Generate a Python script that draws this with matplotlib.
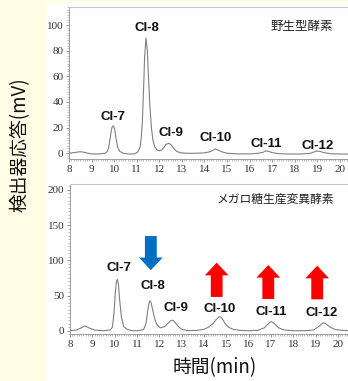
import matplotlib
matplotlib.use("Agg")
import matplotlib.pyplot as plt
from matplotlib.patches import Rectangle
from matplotlib.ticker import MultipleLocator

# wild-type enzyme trace (top)
wt_time = [8.0, 8.2, 8.4, 8.5, 8.6, 8.8, 9.0, 9.3, 9.6, 9.7, 9.75, 9.8, 9.85, 9.9, 9.96,
           10.02, 10.08, 10.15, 10.25, 10.4, 10.6, 10.9, 11.05, 11.15, 11.2, 11.25, 11.3,
           11.35, 11.41, 11.47, 11.52, 11.58, 11.65, 11.72, 11.8, 11.9, 12.0, 12.1, 12.2,
           12.3, 12.43, 12.55, 12.65, 12.75, 12.9, 13.2, 13.6, 14.0, 14.2, 14.35, 14.48,
           14.6, 14.8, 15.0, 15.5, 16.0, 16.4, 16.6, 16.72, 16.85, 17.0, 17.3, 17.8, 18.3,
           18.7, 18.85, 18.97, 19.1, 19.3, 19.6, 20.0, 20.4]
wt_signal = [0, 0.5, 1, 1.2, 1, 0.2, -0.5, -0.6, 0, 1.5, 4, 9, 15, 20, 21.5,
             19, 12, 5, 1.5, 0, -0.5, -0.5, 1, 5, 12, 25, 48,
             75, 90, 80, 60, 38, 20, 10, 5, 2.5, 2, 2.5, 4.5,
             7, 7.8, 6, 3.5, 1.8, 0.5, 0, 0, 0.3, 1, 2, 3.4,
             2.5, 1, 0, -0.5, -0.5, 0, 0.8, 1.8, 1.5, 0.5, -0.3, -0.6, -0.6,
             0, 1, 1.8, 1.5, 0.5, -0.4, -0.6, -0.6]

# mutant enzyme trace (bottom)
mt_time = [8.0, 8.3, 8.5, 8.67, 8.85, 9.1, 9.5, 9.8, 9.9, 9.97, 10.03, 10.08, 10.12, 10.17,
           10.22, 10.3, 10.4, 10.55, 10.8, 11.1, 11.3, 11.4, 11.48, 11.53, 11.58, 11.63,
           11.7, 11.8, 11.9, 12.05, 12.25, 12.4, 12.5, 12.6, 12.7, 12.85, 13.0, 13.3, 13.7,
           14.0, 14.2, 14.4, 14.55, 14.65, 14.72, 14.82, 14.95, 15.1, 15.3, 15.6, 16.0,
           16.4, 16.7, 16.85, 16.95, 17.03, 17.15, 17.35, 17.6, 18.0, 18.5, 18.9, 19.1,
           19.25, 19.34, 19.45, 19.65, 19.9, 20.2, 20.5]
mt_signal = [0, 1, 4, 6.7, 4, 1, 0, 1, 5, 25, 55, 70, 73, 66,
             45, 20, 6, 2, 0, 0, 2, 10, 28, 38, 42.6, 40,
             30, 16, 8, 4, 6, 11, 14, 15, 12, 6, 2, 0, 0.5,
             2, 5, 10, 16, 19, 20, 17, 10, 5, 2, 0.5, 0,
             0.5, 4, 9, 12, 12.8, 10, 4, 1, 0, 0, 1, 5,
             9, 11.4, 10, 5, 1.5, 0.5, 0]

peak_names = ["CI-7", "CI-8", "CI-9", "CI-10", "CI-11", "CI-12"]
wt_label_x = [9.93, 11.44, 12.52, 14.48, 16.74, 19.0]
wt_label_y = [28, 98, 16, 12, 7, 6]
mt_label_x = [10.2, 11.69, 12.74, 14.7, 17.02, 19.25]
mt_label_y = [89, 64, 32, 31, 27, 25.6]

# change arrows in the mutant panel: (x, tail y, head y, colour)
arrow_x = [11.62, 14.57, 16.88, 19.07]
arrow_tail = [134.5, 48, 45, 44.6]
arrow_head = [86, 96.7, 93.4, 92.4]
arrow_color = ["#0070c0", "#ff0000", "#ff0000", "#ff0000"]

bg = "#fffde6"
trace_color = "#808080"
cjk = ["Noto Sans CJK JP", "DejaVu Sans"]

# tick labels are in a Times-like serif
plt.rcParams["font.family"] = "Liberation Serif"

fig = plt.figure(figsize=(3.48, 3.81), dpi=100)
fig.patch.set_facecolor(bg)
fig.add_artist(Rectangle((47 / 348, 0), 1 - 47 / 348, 1 - 3 / 381,
                         transform=fig.transFigure, facecolor="white",
                         edgecolor="none", zorder=0))

ax1 = fig.add_axes([69 / 348, 0.5819, 1 - 69 / 348, 0.4005])
ax2 = fig.add_axes([70 / 348, 0.1226, 1 - 70 / 348, 0.3945])


def style(ax, xmax, ylim, ystep):
    ax.set_facecolor("white")
    ax.set_xlim(8, xmax)
    ax.set_ylim(*ylim)
    ax.xaxis.set_major_locator(MultipleLocator(1))
    ax.xaxis.set_minor_locator(MultipleLocator(0.1))
    ax.yaxis.set_major_locator(MultipleLocator(ystep))
    ax.yaxis.set_minor_locator(MultipleLocator(ystep / 10))
    ax.set_yticks([t for t in range(0, int(ylim[1]) + 1, ystep)])
    ax.spines["right"].set_visible(False)
    ax.spines["top"].set_color("#c8c8c8")
    ax.spines["top"].set_linewidth(0.8)
    for s in ("left", "bottom"):
        ax.spines[s].set_color("#909090")
        ax.spines[s].set_linewidth(0.6)
    ax.tick_params(which="major", length=2.5, width=0.6, color="#808080",
                   labelsize=8, labelcolor="#333333", pad=1.5)
    ax.tick_params(which="minor", length=1.2, width=0.5, color="#a0a0a0")


style(ax1, 20.36, (-4.7, 114.3), 20)
style(ax2, 20.45, (-5.1, 208.5), 50)

ax1.plot(wt_time, wt_signal, color=trace_color, lw=0.8)
ax2.plot(mt_time, mt_signal, color=trace_color, lw=0.8)

for name, x, y in zip(peak_names, wt_label_x, wt_label_y):
    ax1.text(x, y, name, ha="center", va="center", fontsize=9.5,
             fontweight="bold", family="Liberation Sans", color="#111111")
for name, x, y in zip(peak_names, mt_label_x, mt_label_y):
    ax2.text(x, y, name, ha="center", va="center", fontsize=9.5,
             fontweight="bold", family="Liberation Sans", color="#111111")

ax1.text(18.32, 99, "野生型酵素", ha="center", va="center", fontsize=9,
         family=cjk, color="#222222")
ax2.text(17.2, 187, "メガロ糖生産変異酵素", ha="center", va="center", fontsize=8.5,
         family=cjk, color="#222222")

for x, y0, y1, c in zip(arrow_x, arrow_tail, arrow_head, arrow_color):
    ax2.arrow(x, y0, 0, y1 - y0, width=0.53, head_width=1.06, head_length=18,
              length_includes_head=True, color=c, lw=0, zorder=4)

fig.text(20 / 348, 1 - 145 / 381, "検出器応答(mV)", rotation=90, ha="center",
         va="center", fontsize=13.5, family=cjk, color="#111111")
fig.text(215 / 348, 1 - 368 / 381, "時間(min)", ha="center", va="center",
         fontsize=13.5, family=cjk, color="#111111")

fig.savefig("out.png", dpi=100, facecolor=bg)
